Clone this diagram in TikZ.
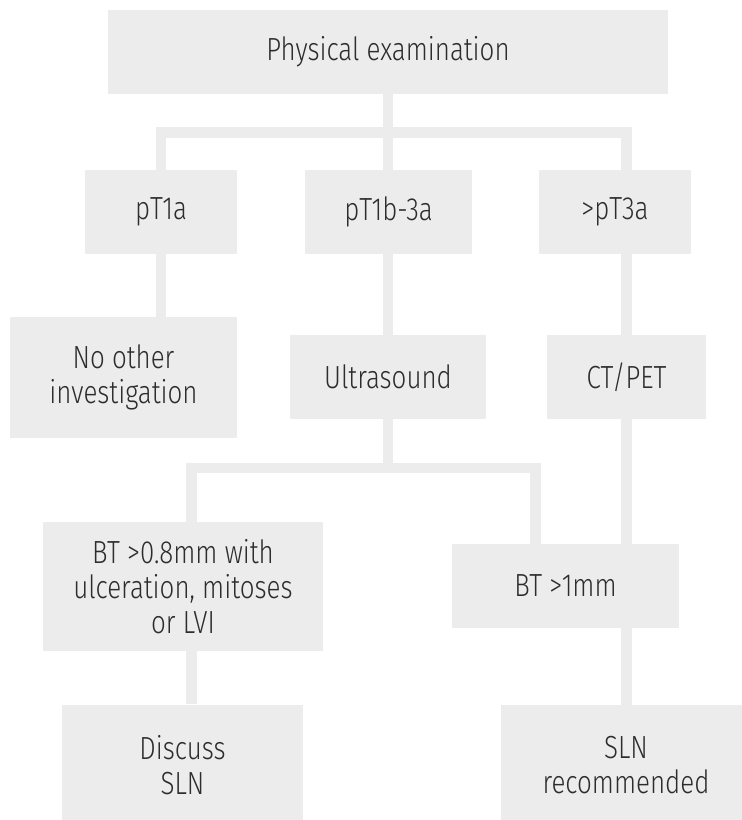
\documentclass[tikz,border=0pt]{standalone}
\usepackage{fontspec}
\setmainfont{Fira Sans}[UprightFont=* Light, FakeStretch=0.81]
\usetikzlibrary{backgrounds}
\definecolor{boxgrey}{RGB}{236,236,236}
\definecolor{textgrey}{RGB}{45,45,45}

\begin{document}
\begin{tikzpicture}[x=1pt, y=-1pt,
    box/.style={rectangle, fill=boxgrey, text=textgrey, inner sep=0pt,
        align=center, font=\fontsize{32}{35}\selectfont},
    link/.style={draw=boxgrey, line width=10.5pt}]

    \useasboundingbox (0,0) rectangle (742,820);

    \node[box, minimum width=560pt, minimum height=84pt] (phys) at (388,52) {Physical examination};
    \node[box, minimum width=152pt, minimum height=84pt] (pta) at (161,212) {pT1a};
    \node[box, minimum width=167pt, minimum height=84pt] (ptb) at (388.5,212) {pT1b-3a};
    \node[box, minimum width=152pt, minimum height=84pt] (ptc) at (615,212) {>pT3a};
    \node[box, minimum width=227pt, minimum height=121pt] (noinv) at (123.5,377.5) {No other\\investigation};
    \node[box, minimum width=196pt, minimum height=84pt] (us) at (388,377) {Ultrasound};
    \node[box, minimum width=159pt, minimum height=84pt] (ctpet) at (626.5,377) {CT/PET};
    \node[box, minimum width=280pt, minimum height=129pt] (bt08) at (183,586.5) {BT >0.8mm with\\ulceration, mitoses\\or LVI};
    \node[box, minimum width=227pt, minimum height=84pt] (bt1) at (565.5,586) {BT >1mm};
    \node[box, minimum width=241pt, minimum height=122pt] (disc) at (182.5,765.5) {Discuss\\SLN};
    \node[box, minimum width=250pt, minimum height=122pt] (slnrec) at (626,765.5) {SLN\\recommended};

    \coordinate (split1) at (388,132.5);
    \coordinate (split2) at (388,468);
    \coordinate (lbranch) at (191.5,468);
    \coordinate (rbranch) at (535.5,468);

    \begin{scope}[on background layer]
        \draw[link] (phys) -- (us);
        \draw[link] (pta.north) |- (split1) -| (ctpet.north);
        \draw[link] (pta) -- (pta |- noinv);
        \draw[link] (ctpet) -- (ctpet |- slnrec);
        \draw[link] (us) -- (split2);
        \draw[link] (lbranch |- disc.north) -- (lbranch) -- (rbranch) -- (rbranch |- bt1.north);
    \end{scope}
\end{tikzpicture}
\end{document}
